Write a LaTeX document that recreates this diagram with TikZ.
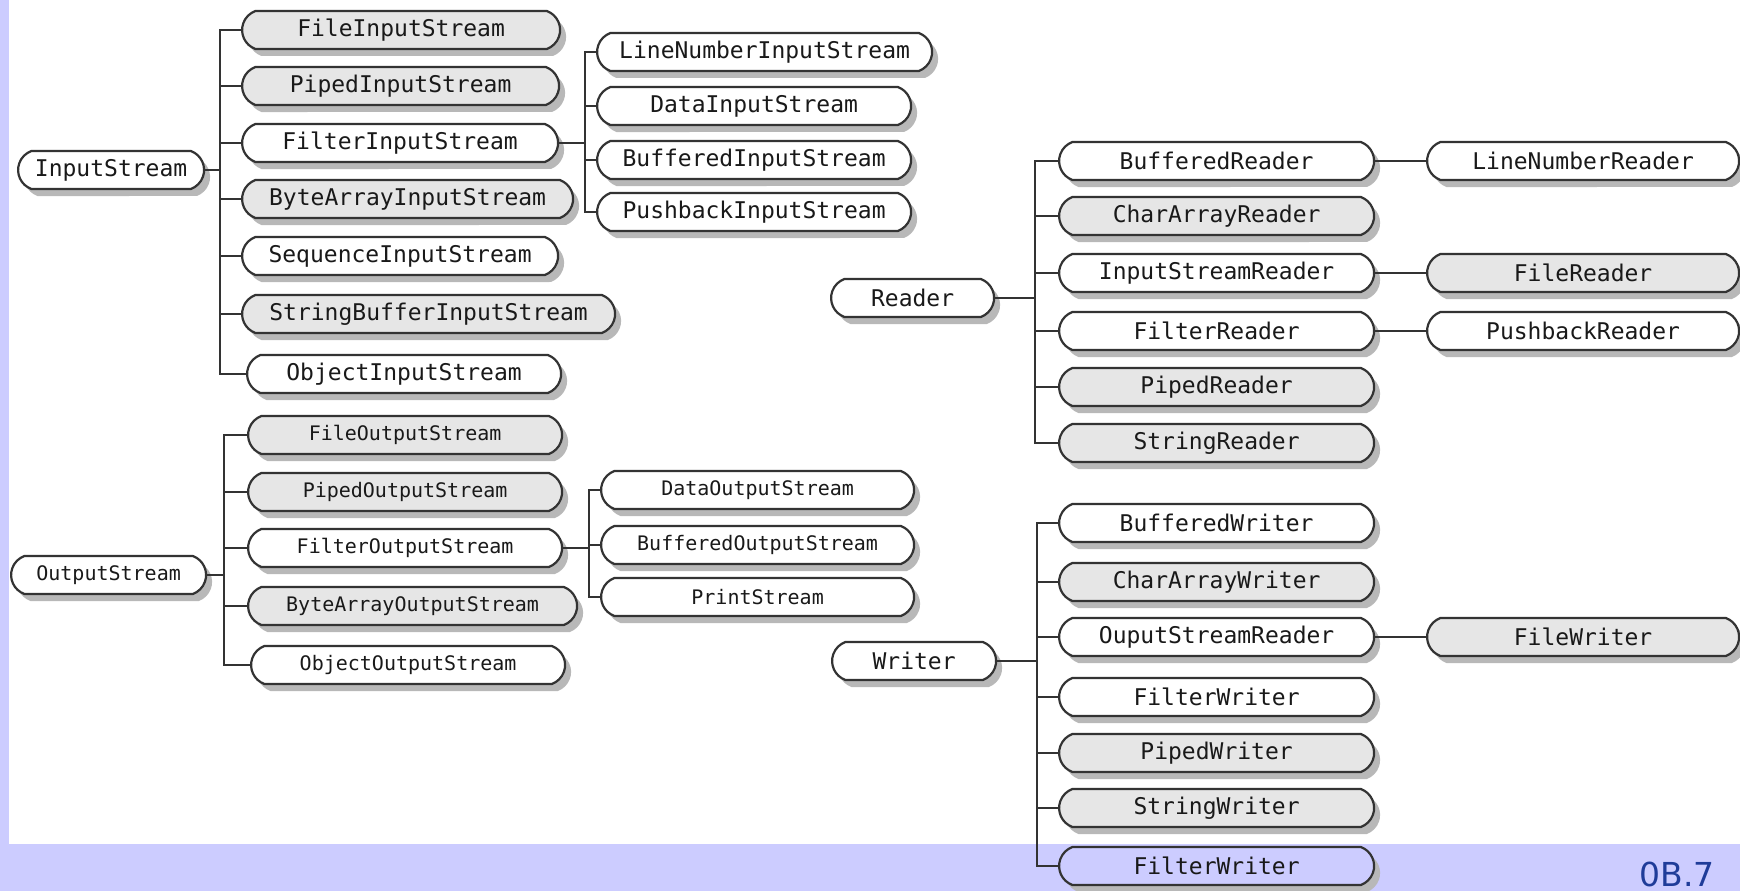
\documentclass[tikz,border=0pt]{standalone}
\usepackage{fontspec}
\newfontfamily\boxfont{DejaVu Sans Mono}
\newfontfamily\pagefont{DejaVu Sans}
\usetikzlibrary{positioning,shapes.misc,shadows}
\definecolor{bandcol}{HTML}{CCCCFF}
\definecolor{boxgrey}{HTML}{E6E6E6}
\definecolor{edgecol}{HTML}{333333}
\definecolor{pagenum}{HTML}{1F3C99}

\begin{document}
\begin{tikzpicture}[
  x=1pt, y=-1pt,
  cls/.style={rounded rectangle,rounded rectangle arc length=140,
              draw=edgecol,line width=2.2pt,minimum height=38pt,inner sep=0pt,
              anchor=west,text=black!90,font=\boxfont\fontsize{23}{23}\selectfont,
              drop shadow={shadow xshift=6pt,shadow yshift=-7pt,fill=black!28,opacity=1}},
  plain/.style={cls,fill=white},
  shaded/.style={cls,fill=boxgrey},
  narrow/.style={font=\boxfont\fontsize{20}{20}\selectfont},
  link/.style={draw=edgecol,line width=2pt}
]
% page
\fill[bandcol] (0,0) rectangle (1740,891);
\fill[white] (9,0) rectangle (1740,844);
\useasboundingbox (0,0) rectangle (1740,891);

% byte input streams
\node[plain,minimum width=186pt] (is) at (17,170) {InputStream};
\node[shaded,minimum width=318pt] (fis) at (241,30) {FileInputStream};
\node[shaded,minimum width=317pt] (pis) at (241,86) {PipedInputStream};
\node[plain,minimum width=316pt] (filis) at (241,143) {FilterInputStream};
\node[shaded,minimum width=331pt] (bais) at (241,199) {ByteArrayInputStream};
\node[plain,minimum width=316pt] (sis) at (241,256) {SequenceInputStream};
\node[shaded,minimum width=373pt] (sbis) at (241,314) {StringBufferInputStream};
\node[plain,minimum width=314pt] (ois) at (246,374) {ObjectInputStream};

\node[plain,minimum width=335pt] (lnis) at (596,52) {LineNumberInputStream};
\node[plain,minimum width=314pt] (dis) at (596,106) {DataInputStream};
\node[plain,minimum width=314pt] (bis) at (596,160) {BufferedInputStream};
\node[plain,minimum width=314pt] (pbis) at (596,212) {PushbackInputStream};

\foreach \c in {fis,pis,filis,bais,sis,sbis,ois}
  \draw[link] (is.east) -- ++(15,0) |- (\c.west);
\foreach \c in {lnis,dis,bis,pbis}
  \draw[link] (filis.east) -- ++(26,0) |- (\c.west);

% byte output streams
\node[plain,narrow,minimum width=195pt] (os) at (10,575) {OutputStream};
\node[shaded,narrow,minimum width=314pt] (fos) at (247,435) {FileOutputStream};
\node[shaded,narrow,minimum width=314pt] (pos) at (247,492) {PipedOutputStream};
\node[plain,narrow,minimum width=314pt] (filos) at (247,548) {FilterOutputStream};
\node[shaded,narrow,minimum width=329pt] (baos) at (247,606) {ByteArrayOutputStream};
\node[plain,narrow,minimum width=314pt] (oos) at (250,665) {ObjectOutputStream};

\node[plain,narrow,minimum width=313pt] (dos) at (600,490) {DataOutputStream};
\node[plain,narrow,minimum width=313pt] (bos) at (600,545) {BufferedOutputStream};
\node[plain,narrow,minimum width=313pt] (ps) at (600,597) {PrintStream};

\foreach \c in {fos,pos,filos,baos,oos}
  \draw[link] (os.east) -- ++(17,0) |- (\c.west);
\foreach \c in {dos,bos,ps}
  \draw[link] (filos.east) -- ++(26,0) |- (\c.west);

% character readers
\node[plain,minimum width=163pt] (rd) at (830,298) {Reader};
\node[plain,minimum width=315pt] (brd) at (1058,161) {BufferedReader};
\node[shaded,minimum width=315pt] (card) at (1058,216) {CharArrayReader};
\node[plain,minimum width=315pt] (isrd) at (1058,273) {InputStreamReader};
\node[plain,minimum width=315pt] (flrd) at (1058,331) {FilterReader};
\node[shaded,minimum width=315pt] (prd) at (1058,387) {PipedReader};
\node[shaded,minimum width=315pt] (srd) at (1058,443) {StringReader};

\node[plain,minimum width=312pt] (lnrd) at (1426,161) {LineNumberReader};
\node[shaded,minimum width=312pt] (frd) at (1426,273) {FileReader};
\node[plain,minimum width=312pt] (pbrd) at (1426,331) {PushbackReader};

\foreach \c in {brd,card,isrd,flrd,prd,srd}
  \draw[link] (rd.east) -- ++(40,0) |- (\c.west);
\draw[link] (brd.east) -- (lnrd.west);
\draw[link] (isrd.east) -- (frd.west);
\draw[link] (flrd.east) -- (pbrd.west);

% character writers
\node[plain,minimum width=164pt] (wr) at (831,661) {Writer};
\node[plain,minimum width=315pt] (bwr) at (1058,523) {BufferedWriter};
\node[shaded,minimum width=315pt] (cawr) at (1058,582) {CharArrayWriter};
\node[plain,minimum width=315pt] (oswr) at (1058,637) {OuputStreamReader};
\node[plain,minimum width=315pt] (flwr) at (1058,697) {FilterWriter};
\node[shaded,minimum width=315pt] (pwr) at (1058,753) {PipedWriter};
\node[shaded,minimum width=315pt] (swr) at (1058,808) {StringWriter};
\node[cls,fill=bandcol,minimum width=315pt] (flwr2) at (1058,866) {FilterWriter};

\node[shaded,minimum width=312pt] (fwr) at (1426,637) {FileWriter};

\foreach \c in {bwr,cawr,oswr,flwr,pwr,swr,flwr2}
  \draw[link] (wr.east) -- ++(40,0) |- (\c.west);
\draw[link] (oswr.east) -- (fwr.west);

\node[font=\pagefont\fontsize{33}{33}\selectfont,text=pagenum] (pg) at (1677,874) {0B.7};
\end{tikzpicture}
\end{document}
